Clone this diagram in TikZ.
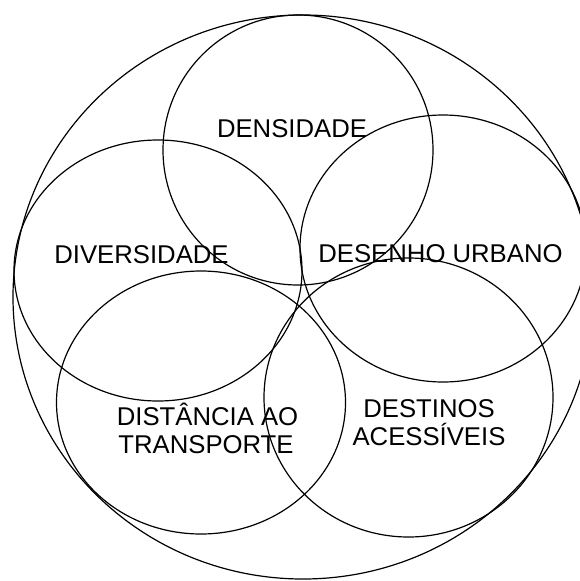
\documentclass[tikz,border=0pt]{standalone}
\usepackage{fontspec}
\setmainfont{Liberation Sans}
\begin{document}
\begin{tikzpicture}[x=1pt,y=-1pt,
  ring/.style={draw=black, line width=1.2pt},
  lbl/.style={anchor=base, inner sep=0pt, font=\fontsize{25.7}{28}\selectfont}]
\useasboundingbox (0,0) rectangle (580,581);
\clip (0,0) rectangle (580,581);
% outer ring
\draw[ring] (303,297) ellipse [x radius=290pt, y radius=282pt];
% five overlapping rings
\draw[ring] (298,150) ellipse [x radius=135pt, y radius=135pt];
\draw[ring] (158,270.5) ellipse [x radius=144pt, y radius=130.5pt];
\draw[ring] (443,248.5) ellipse [x radius=143pt, y radius=133.5pt];
\draw[ring] (201,402.5) ellipse [x radius=144.5pt, y radius=131.5pt];
\draw[ring] (408.5,397.5) ellipse [x radius=144.5pt, y radius=139.5pt];
% labels
\node[lbl] (dens) at (292,137.5) {DENSIDADE};
\node[lbl] (div) at (141.5,263.5) {DIVERSIDADE};
\node[lbl] (des) at (440.5,262.5) {DESENHO URBANO};
\node[lbl] (dist1) at (207.5,425.5) {DISTÂNCIA AO};
\node[lbl] (dist2) at (206,453.5) {TRANSPORTE};
\node[lbl] (dest1) at (429,417.5) {DESTINOS};
\node[lbl] (dest2) at (429,445.5) {ACESSÍVEIS};
\end{tikzpicture}
\end{document}
